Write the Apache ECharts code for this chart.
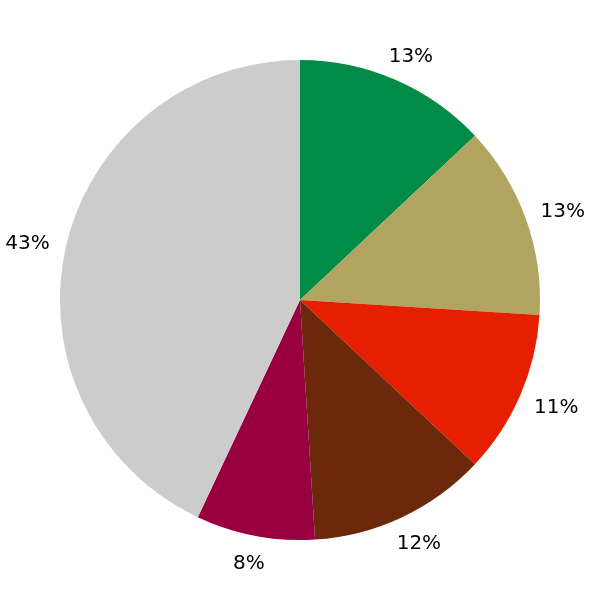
<!DOCTYPE html>
<html>
<head>
<meta charset="utf-8">
<script src="https://cdn.jsdelivr.net/npm/echarts@6/dist/echarts.min.js"></script>
<style>html,body{margin:0;padding:0;background:#fff}#c{width:600px;height:600px}</style>
</head>
<body>
<div id="c"></div>
<script>
var categories = ['A', 'B', 'C', 'D', 'E', 'F'];
var values = [13, 13, 11, 12, 8, 43];
var colors = ['#008C46', '#B0A460', '#E61F00', '#6B280A', '#99003F', '#CCCCCC'];

var chart = echarts.init(document.getElementById('c'), null, {renderer: 'canvas'});
var total = values.reduce(function (a, b) { return a + b; }, 0);
var R = 240, CX = 300, CY = 300, GAP = 257;
var mids = [];
var acc = 0;
values.forEach(function (v) {
  mids.push((acc + v / 2) / total * 2 * Math.PI);
  acc += v;
});

chart.setOption({
  animation: false,
  series: [{
    type: 'pie',
    center: [CX, CY],
    radius: R,
    startAngle: 90,
    clockwise: true,
    silent: true,
    data: categories.map(function (c, i) {
      return {name: c, value: values[i], itemStyle: {color: colors[i]}};
    }),
    label: {
      show: true,
      position: 'inside',
      overflow: 'none',
      formatter: '{c}%',
      fontFamily: 'DejaVu Sans',
      fontSize: 20,
      color: '#000'
    },
    labelLine: {show: false},
    labelLayout: function (p) {
      var a = mids[p.dataIndex];
      var dx = Math.sin(a), dy = -Math.cos(a);
      var w = p.labelRect.width, h = p.labelRect.height;
      return {
        x: CX + dx * GAP + dx * w / 2,
        y: CY + dy * GAP + dy * h / 2 + 2,
        align: 'center',
        verticalAlign: 'middle'
      };
    }
  }]
});
</script>
</body>
</html>
